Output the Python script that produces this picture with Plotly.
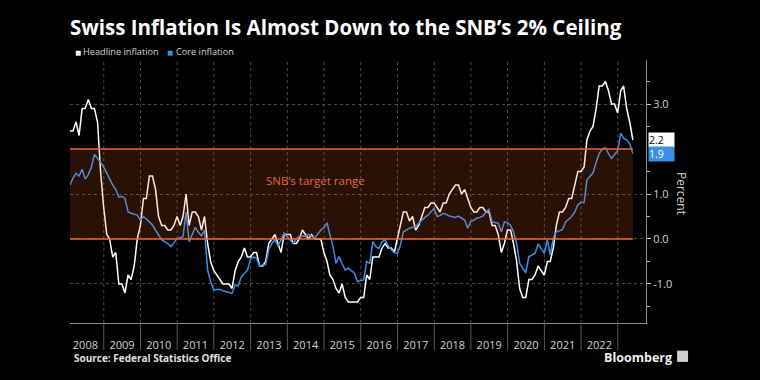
import pandas as pd
import plotly.graph_objects as go

# ---------------- data ----------------
dates = pd.date_range("2008-01-31", "2023-05-31", freq="ME")

headline = [
    2.4, 2.4, 2.6, 2.3, 2.9, 2.9, 3.1, 2.9, 2.9, 2.6, 1.5, 0.7,        # 2008
    0.1, 0.0, -0.4, -0.3, -1.0, -1.0, -1.2, -0.8, -0.9, -0.6, 0.0, 0.3,  # 2009
    0.9, 0.9, 1.4, 1.4, 1.1, 0.5, 0.3, 0.3, 0.2, 0.2, 0.3, 0.5,        # 2010
    0.3, 0.5, 1.0, 0.3, 0.6, 0.6, 0.5, 0.2, 0.5, -0.1, -0.5, -0.7,     # 2011
    -0.8, -0.9, -1.0, -1.0, -1.0, -1.1, -0.7, -0.5, -0.4, -0.2, -0.4, -0.4,  # 2012
    -0.3, -0.3, -0.6, -0.6, -0.5, -0.1, 0.0, 0.1, -0.1, -0.3, 0.1, 0.1,  # 2013
    0.1, -0.1, -0.1, 0.0, 0.2, 0.1, 0.0, 0.1, 0.0, 0.0, 0.0, -0.3,     # 2014
    -0.5, -0.8, -0.9, -1.1, -1.2, -1.0, -1.3, -1.4, -1.4, -1.4, -1.4, -1.3,  # 2015
    -1.3, -0.8, -0.9, -0.4, -0.4, -0.4, -0.2, -0.1, -0.2, -0.2, -0.3, 0.0,  # 2016
    0.3, 0.6, 0.6, 0.4, 0.5, 0.2, 0.3, 0.5, 0.7, 0.7, 0.8, 0.8,        # 2017
    0.7, 0.6, 0.8, 0.8, 1.0, 1.1, 1.2, 1.2, 1.0, 1.1, 0.9, 0.7,        # 2018
    0.6, 0.6, 0.7, 0.7, 0.6, 0.6, 0.3, 0.3, 0.1, -0.3, -0.1, 0.2,      # 2019
    0.2, -0.1, -0.5, -1.1, -1.3, -1.3, -0.9, -0.9, -0.8, -0.6, -0.7, -0.8,  # 2020
    -0.5, -0.5, -0.2, 0.3, 0.6, 0.6, 0.7, 0.9, 0.9, 1.2, 1.5, 1.5,     # 2021
    1.6, 2.2, 2.4, 2.5, 2.9, 3.4, 3.4, 3.5, 3.3, 3.0, 3.0, 2.8,        # 2022
    3.3, 3.4, 2.9, 2.6, 2.2,                                          # 2023
]

core = [
    1.2, 1.35, 1.46, 1.4, 1.55, 1.33, 1.43, 1.6, 1.88, 1.8, 1.7, 1.6,          # 2008
    1.46, 1.35, 1.2, 1.1, 0.93, 0.95, 0.9, 0.6, 0.57, 0.55, 0.53, 0.42,        # 2009
    0.5, 0.45, 0.38, 0.31, 0.2, 0.1, -0.02, -0.06, -0.1, -0.17, -0.08, 0.01,   # 2010
    0.03, 0.05, 0.6, -0.06, 0.1, 0.26, 0.15, 0.07, 0.2, -0.69, -0.95, -1.13,   # 2011
    -1.12, -1.12, -1.15, -1.17, -1.2, -1.21, -1.02, -1.04, -0.84, -0.75, -0.69, -0.45,  # 2012
    -0.4, -0.43, -0.6, -0.58, -0.57, -0.24, -0.1, -0.02, -0.16, -0.02, 0.13, 0.05,     # 2013
    -0.02, -0.1, 0.0, 0.06, 0.06, 0.06, 0.1, 0.05, 0.02, 0.11, 0.2, 0.25,      # 2014
    0.36, 0.1, -0.17, -0.54, -0.39, -0.55, -0.69, -0.65, -0.7, -0.76, -0.95, -0.92,  # 2015
    -0.91, -0.5, -0.54, -0.06, -0.17, -0.21, -0.06, -0.02, -0.15, -0.24, -0.3, -0.32,  # 2016
    -0.13, 0.16, 0.2, 0.24, 0.26, 0.27, 0.35, 0.42, 0.48, 0.53, 0.6, 0.68,     # 2017
    0.5, 0.52, 0.57, 0.55, 0.51, 0.5, 0.48, 0.51, 0.47, 0.42, 0.24, 0.39,      # 2018
    0.42, 0.46, 0.48, 0.51, 0.6, 0.66, 0.38, 0.37, 0.35, 0.16, 0.38, 0.36,     # 2019
    0.3, 0.16, -0.1, -0.54, -0.65, -0.75, -0.39, -0.35, -0.32, -0.11, -0.2, -0.32,  # 2020
    -0.02, -0.35, 0.02, 0.16, 0.18, 0.21, 0.38, 0.45, 0.5, 0.6, 0.76, 0.81,    # 2021
    0.81, 1.31, 1.4, 1.47, 1.7, 1.9, 2.0, 2.03, 1.9, 1.79, 1.88, 1.96,         # 2022
    2.35, 2.24, 2.2, 2.12, 1.9,                                                # 2023
]

years = list(range(2008, 2023))
year_labels = [str(y) for y in years]
boundary_years = list(range(2009, 2024))
target_low, target_high = 0.0, 2.0
ytick_vals = [-1, 0, 1, 3]
ytick_text = ["-1.0", "0.0", "1.0", "3.0"]
minor_vals = [-1.5, -0.5, 0.5, 1.5, 2.5, 3.5]

# ---------------- style ----------------
WHITE = "#ffffff"
BLUE = "#3a8ee6"
ORANGE = "#e4683a"
GRID = "#4a4a4a"
AXIS = "#8a8a8a"
TXT = "#d2d2d2"
FONT = "Open Sans, Liberation Sans, DejaVu Sans, sans-serif"

fig = go.Figure()
fig.add_trace(go.Scatter(x=dates, y=headline, mode="lines", name="Headline inflation",
                         line=dict(color=WHITE, width=1.5), showlegend=False))
fig.add_trace(go.Scatter(x=dates, y=core, mode="lines", name="Core inflation",
                         line=dict(color=BLUE, width=1.5), showlegend=False))

shapes = []
# vertical dotted gridlines at year boundaries + dividers between year labels
for y in boundary_years:
    shapes.append(dict(type="line", xref="x", yref="paper", x0=f"{y}-01-01", x1=f"{y}-01-01",
                       y0=0, y1=1, line=dict(color=GRID, width=1, dash="dot"), layer="below"))
    shapes.append(dict(type="line", xref="x", yref="paper", x0=f"{y}-01-01", x1=f"{y}-01-01",
                       y0=0, y1=-0.103, line=dict(color="#5a5a5a", width=1), layer="above"))
# target band
shapes.append(dict(type="rect", xref="x", yref="y", x0=dates[0], x1=dates[-1], y0=target_low, y1=target_high,
                   fillcolor="rgba(255,105,40,0.16)", line=dict(width=0), layer="above"))
for v in (target_low, target_high):
    shapes.append(dict(type="line", xref="x", yref="y", x0=dates[0], x1=dates[-1], y0=v, y1=v,
                       line=dict(color=ORANGE, width=1.5), layer="above"))

# Bloomberg icon
shapes.append(dict(type="rect", xref="paper", yref="paper", x0=1.054, x1=1.073, y0=-0.148, y1=-0.105,
                   fillcolor="#cfcfcf", line=dict(width=0)))

annotations = [
    dict(text="■", xref="paper", yref="paper", x=(73 - 70) / 576, y=(323 - 52) / 263,
         xanchor="left", yanchor="middle", showarrow=False, font=dict(color=WHITE, size=10, family=FONT)),
    dict(text="Headline inflation", xref="paper", yref="paper", x=(81 - 70) / 576, y=(323 - 52) / 263,
         xanchor="left", yanchor="middle", showarrow=False, font=dict(color=TXT, size=9.2, family=FONT)),
    dict(text="■", xref="paper", yref="paper", x=(165 - 70) / 576, y=(323 - 52) / 263,
         xanchor="left", yanchor="middle", showarrow=False, font=dict(color=BLUE, size=10, family=FONT)),
    dict(text="Core inflation", xref="paper", yref="paper", x=(174 - 70) / 576, y=(323 - 52) / 263,
         xanchor="left", yanchor="middle", showarrow=False, font=dict(color=TXT, size=9.2, family=FONT)),
    dict(text="SNB’s target range", xref="x", yref="y", x="2014-10-05", y=1.3, xanchor="center",
         showarrow=False, font=dict(color=ORANGE, size=11.5, family=FONT)),
    dict(text="Percent", xref="paper", yref="paper", x=(682 - 70) / 576, y=(323 - 193) / 263,
         xanchor="center", yanchor="middle",
         textangle=90, showarrow=False, font=dict(color=TXT, size=12, family=FONT)),
    dict(text=f"{headline[-1]:.1f}", xref="paper", yref="y", x=1, y=headline[-1], xanchor="left",
         xshift=2, yanchor="middle", showarrow=False, bgcolor=WHITE, borderpad=0,
         font=dict(color="#000000", size=10.5, family=FONT), width=25, align="left"),
    dict(text=f"{core[-1]:.1f}", xref="paper", yref="y", x=1, y=core[-1], xanchor="left",
         xshift=2, yanchor="middle", showarrow=False, bgcolor=BLUE, borderpad=0,
         font=dict(color="#ffffff", size=10.5, family=FONT), width=25, align="left"),
    dict(text="<b>Source: Federal Statistics Office</b>", xref="paper", yref="paper",
         x=(72 - 70) / 576, y=(323 - 358) / 263, xanchor="left", yanchor="middle", showarrow=False,
         font=dict(color="#e0e0e0", size=10, family=FONT)),
    dict(text="<b>Bloomberg</b>", xref="paper", yref="paper", x=(674 - 70) / 576, y=(323 - 357) / 263,
         xanchor="right", yanchor="middle", showarrow=False,
         font=dict(color="#f0f0f0", size=12.5, family=FONT)),
]

fig.update_layout(
    width=760, height=380,
    paper_bgcolor="#000000", plot_bgcolor="#000000",
    margin=dict(l=70, r=114, t=60, b=57),
    title=dict(text="<b>Swiss Inflation Is Almost Down to the SNB’s 2% Ceiling</b>",
               x=70 / 760, xanchor="left", xref="container", y=1 - 28 / 380, yanchor="middle", yref="container",
               font=dict(color="#ffffff", size=20.5, family=FONT)),
    xaxis=dict(
        type="date", range=["2008-01-31", "2023-10-09"],
        tickmode="array", tickvals=[f"{y}-07-02" for y in years], ticktext=year_labels,
        ticks="outside", ticklen=12, tickcolor="rgba(0,0,0,0)",
        showgrid=False, zeroline=False, showline=True, linecolor=AXIS, linewidth=1,
        tickfont=dict(color=TXT, size=11, family=FONT),
    ),
    yaxis=dict(
        side="right", range=[-1.867, 3.978],
        tickmode="array", tickvals=ytick_vals, ticktext=ytick_text,
        ticks="outside", ticklen=4, tickcolor="#cccccc",
        showgrid=True, gridcolor=GRID, griddash="dot", gridwidth=1,
        zeroline=False, showline=True, linecolor=AXIS, linewidth=1,
        tickfont=dict(color=TXT, size=11, family=FONT),
        minor=dict(tickmode="array", tickvals=minor_vals, ticks="outside", ticklen=3,
                   tickcolor="#bbbbbb", showgrid=False),
    ),
    shapes=shapes,
    annotations=annotations,
    showlegend=False,
)

fig.write_html("out.html", config={"displayModeBar": False},
               post_script="document.body.style.margin='0px';")
